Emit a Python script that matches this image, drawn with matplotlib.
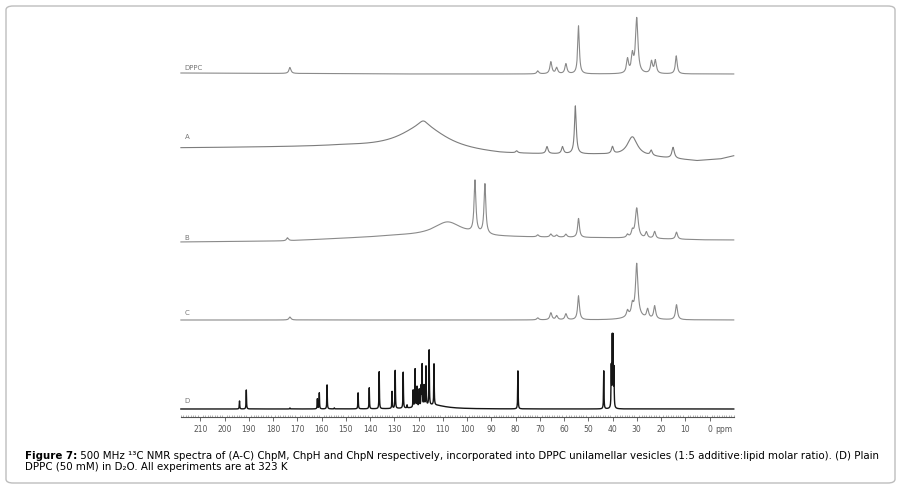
import numpy as np
import matplotlib.pyplot as plt
from matplotlib.patches import FancyBboxPatch
from matplotlib.ticker import FixedLocator

# chemical shift grid (ppm) the traces are drawn on
ppm = np.arange(-10.0, 218.0, 0.02)

# peak lists: shift (ppm), height (px), half width (ppm)
dppc_shift = [173.0, 70.8, 65.4, 63.0, 59.2, 54.0, 33.8, 31.8, 30.0, 23.9, 22.3, 13.7]
dppc_height = [6, 3, 12, 6, 10, 48, 14, 17, 55, 12, 13, 18]
dppc_width = [0.5, 0.5, 0.5, 0.5, 0.5, 0.4, 0.5, 0.5, 0.6, 0.5, 0.5, 0.45]
dppc_base_ppm = [218, 120, -10]
dppc_base = [1, 0, 0]

a_shift = [118.0, 118.0, 79.5, 67.0, 60.6, 55.3, 40.0, 31.8, 24.0, 15.0]
a_height = [24, 6, 2, 7, 7, 48, 7, 19, 5, 11]
a_width = [12, 2.5, 0.5, 0.5, 0.5, 0.45, 0.5, 2.5, 0.5, 0.6]
a_base_ppm = [218, 150, 86, 45, 25, 5, -5, -10]
a_base = [0, 1, -7, -7, -9, -13, -11, -8]

b_shift = [174.0, 108.0, 96.7, 92.6, 70.8, 65.4, 63.0, 59.2, 54.0, 33.8, 31.8, 30.0, 26.0, 22.6, 13.6]
b_height = [3, 14, 52, 50, 2, 3, 2, 3, 19, 3, 6, 30, 6, 7, 7]
b_width = [0.5, 7, 0.45, 0.45, 0.5, 0.5, 0.5, 0.5, 0.45, 0.5, 0.5, 0.7, 0.5, 0.5, 0.5]
b_base_ppm = [218, 175, 128, 100, 88, 40, 0, -10]
b_base = [0, 1, 6, 6, 5, 4, 2, 2]

c_shift = [173.0, 70.8, 65.4, 63.0, 59.2, 54.0, 33.8, 31.8, 30.0, 31.0, 25.5, 22.6, 13.6]
c_height = [3, 2, 7, 4, 6, 24, 6, 10, 52, 4, 9, 13, 15]
c_width = [0.5, 0.5, 0.5, 0.5, 0.5, 0.45, 0.5, 0.5, 0.6, 4, 0.5, 0.5, 0.5]
c_base_ppm = [218, -10]
c_base = [0, 0]

d_shift = [193.8, 191.0, 173.0, 161.7, 160.9, 157.7, 154.7, 144.9, 140.3, 136.2,
           130.9, 129.6, 126.3, 124.7, 122.2, 121.4, 120.6, 119.7, 118.9, 118.5,
           117.7, 116.9, 115.6, 113.6, 114.0, 79.0, 43.6, 40.5, 40.1, 39.8, 39.4]
d_height = [8, 19, 1, 10, 16, 24, 1, 16, 21, 37,
            17, 38, 36, 3, 17, 38, 20, 17, 19, 41,
            20, 39, 55, 41, 4, 38, 38, 40, 66, 66, 38]
d_width = [0.1] * 24 + [6] + [0.1] * 6
d_base_ppm = [218, -10]
d_base = [0, 0]

trace_labels = ['DPPC', 'A', 'B', 'C', 'D']
ppm_ticks = list(range(0, 220, 10))


def spectrum(shift, height, width, base_ppm, base):
    y = np.interp(ppm, base_ppm[::-1], base[::-1])
    for s, h, w in zip(shift, height, width):
        y = y + h / (1 + ((ppm - s) / w) ** 2)
    return y


traces = [
    spectrum(dppc_shift, dppc_height, dppc_width, dppc_base_ppm, dppc_base),
    spectrum(a_shift, a_height, a_width, a_base_ppm, a_base),
    spectrum(b_shift, b_height, b_width, b_base_ppm, b_base),
    spectrum(c_shift, c_height, c_width, c_base_ppm, c_base),
    spectrum(d_shift, d_height, d_width, d_base_ppm, d_base),
]

# stacking (pixel rows of each baseline, counted up from the bottom)
H = 487
offsets = [H - 74, H - 148, H - 242, H - 320, H - 409]
label_y = [H - 68, H - 137, H - 238, H - 313, H - 401]
colors = ['#8a8a8a', '#7c7c7c', '#8a8a8a', '#8a8a8a', '#151515']
widths = [0.8, 0.8, 0.8, 0.8, 1.0]

fig = plt.figure(figsize=(9, 4.87), dpi=100)
ax = fig.add_axes([0, 0, 1, 1])
# 2.425 px per ppm, 0 ppm at x = 709.5 px
ax.set_xlim(709.5 / 2.425, (709.5 - 900) / 2.425)
ax.set_ylim(0, H)

for y, off, c, lw in zip(traces, offsets, colors, widths):
    ax.plot(ppm, y + off, color=c, lw=lw)

for lab, ly in zip(trace_labels, label_y):
    ax.text(216.5, ly, lab, fontsize=5, color='#777777', va='center', ha='left')

# ppm axis
for side in ['top', 'left', 'right']:
    ax.spines[side].set_visible(False)
ax.spines['bottom'].set_position(('data', H - 417))
ax.spines['bottom'].set_bounds(-10, 218)
ax.spines['bottom'].set_color('#555555')
ax.spines['bottom'].set_linewidth(0.8)
ax.xaxis.set_major_locator(FixedLocator(ppm_ticks))
ax.xaxis.set_minor_locator(FixedLocator(np.arange(-10, 219, 1)))
ax.tick_params(axis='x', which='major', direction='out', length=3, width=0.6,
               color='#555555', labelsize=5.5, labelcolor='#555555', pad=2.5)
ax.tick_params(axis='x', which='minor', direction='in', length=1.5, width=0.4,
               color='#777777')
ax.set_yticks([])
ax.text(-2.5, H - 429, 'ppm', fontsize=5.5, color='#555555', va='center', ha='left')

# frame around the figure
frame = FancyBboxPatch((6 / 900, 4 / H), 889 / 900, 477 / H, boxstyle='round,pad=0,rounding_size=0.008',
                       transform=fig.transFigure, fill=False, edgecolor='#bdbdbd', lw=1.0)
fig.patches.append(frame)

# caption
cap_font = ['DejaVu Sans']
cap_size = 7.35
bold = fig.text(25 / 900, 1 - 461 / H, 'Figure 7:', fontsize=cap_size, weight='bold',
                family=cap_font, va='bottom')
ax.annotate(' 500 MHz \u00b9\u00b3C NMR spectra of (A-C) ChpM, ChpH and ChpN respectively, '
            'incorporated into DPPC unilamellar vesicles (1:5 additive:lipid molar ratio). (D) Plain',
            xy=(1, 0), xycoords=bold, va='bottom', ha='left', fontsize=cap_size, family=cap_font)
fig.text(25 / 900, 1 - 472 / H, 'DPPC (50 mM) in D\u2082O. All experiments are at 323 K',
         fontsize=cap_size, family=cap_font, va='bottom')

plt.savefig('out.png', dpi=100)
